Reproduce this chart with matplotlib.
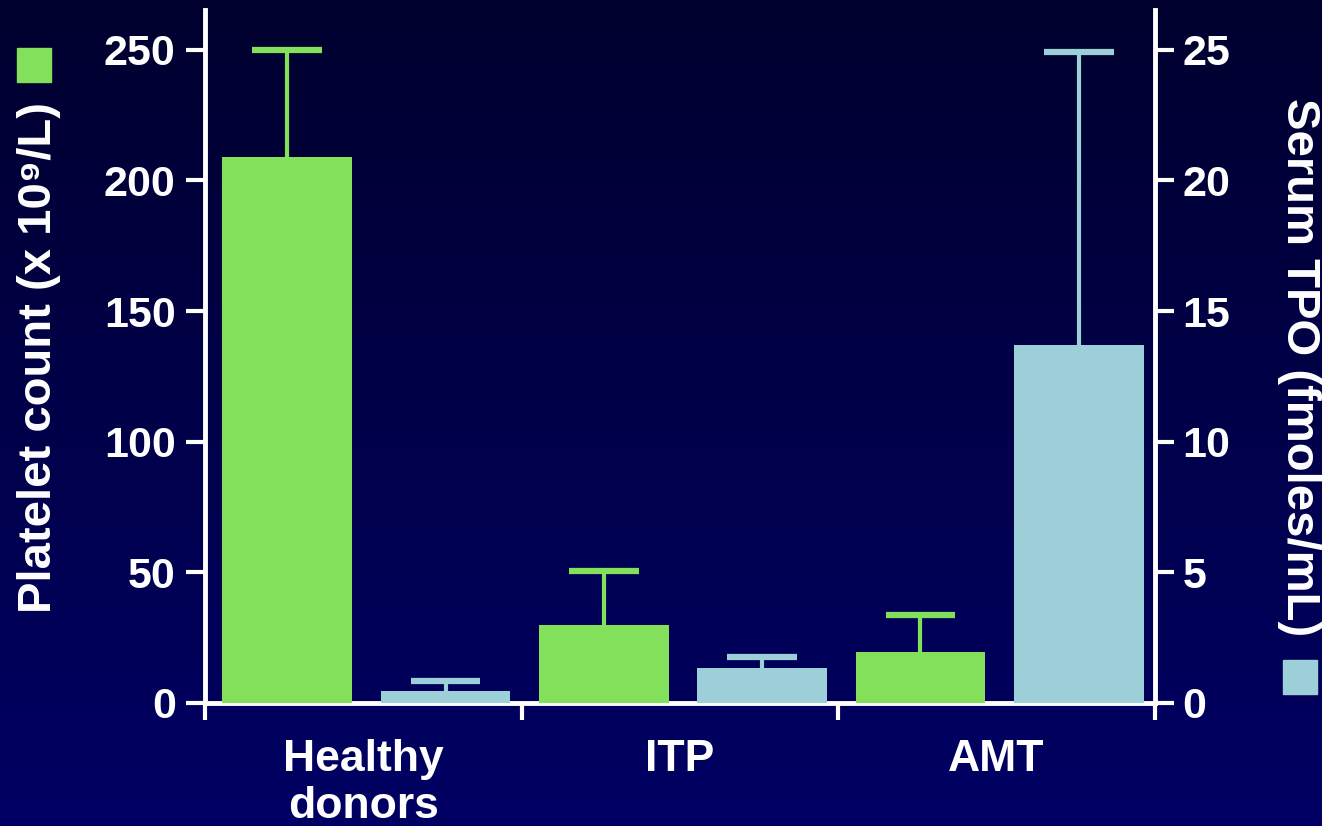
import numpy as np
import matplotlib
matplotlib.use('Agg')
import matplotlib.pyplot as plt
from matplotlib.patches import Rectangle
from matplotlib.colors import LinearSegmentedColormap

# data
groups = ['Healthy\ndonors', 'ITP', 'AMT']
platelets = [209, 30, 19.5]
platelets_err = [41, 20.5, 14]
tpo = [0.45, 1.35, 13.7]
tpo_err = [0.4, 0.4, 11.2]

green = '#82e05a'
blue = '#9ccfd8'
white = 'white'

plt.rcParams['font.family'] = ['Liberation Sans', 'DejaVu Sans']

fig = plt.figure(figsize=(13.22, 8.26), dpi=100)

# navy gradient background
bg = fig.add_axes([0, 0, 1, 1], zorder=-10)
grad = np.linspace(0, 1, 256).reshape(-1, 1)
cmap = LinearSegmentedColormap.from_list('navy', ['#00002e', '#000064'])
bg.imshow(grad, aspect='auto', cmap=cmap, extent=[0, 1, 0, 1])
bg.axis('off')

ax = fig.add_axes([0.155, 0.149, 0.7185, 0.839])
ax.patch.set_alpha(0)
ax2 = ax.twinx()

x = np.arange(len(groups))
w = 0.41
cap = 0.11

def bars_with_err(a, xs, vals, errs, col):
    a.bar(xs, vals, w, color=col, zorder=3)
    tops = np.array(vals) + np.array(errs)
    a.vlines(xs, vals, tops, color=col, lw=3, zorder=3)
    a.hlines(tops, xs - cap, xs + cap, color=col, lw=4.5, zorder=3)

bars_with_err(ax, x - 0.24, platelets, platelets_err, green)
bars_with_err(ax2, x + 0.26, tpo, tpo_err, blue)

ax.set_xlim(-0.5, 2.5)
ax.set_ylim(0, 265.3)
ax2.set_ylim(0, 26.53)

for a in (ax, ax2):
    for s in a.spines.values():
        s.set_color(white)
        s.set_linewidth(3.5)
    a.spines['top'].set_visible(False)
ax.spines['right'].set_visible(False)
ax2.spines['left'].set_visible(False)
ax2.spines['bottom'].set_visible(False)

ax.set_yticks([0, 50, 100, 150, 200, 250])
ax2.set_yticks([0, 5, 10, 15, 20, 25])
ax.tick_params(axis='y', colors=white, labelsize=31, width=3, length=14, pad=7)
ax2.tick_params(axis='y', colors=white, labelsize=31, width=3, length=14, pad=6)
for lab in ax.get_yticklabels() + ax2.get_yticklabels():
    lab.set_fontweight('bold')

# group separators as ticks, group names as text
ax.set_xticks([-0.5, 0.5, 1.5, 2.5])
ax.set_xticklabels([])
ax.tick_params(axis='x', colors=white, width=3, length=12)
for xi, g in zip(x, groups):
    ax.text(xi, -0.052, g, transform=ax.get_xaxis_transform(), ha='center', va='top',
            color=white, fontsize=32, fontweight='bold', linespacing=1.2)

fig.text(0.0295, 0.567, 'Platelet count (x 10⁹/L)', rotation=90, ha='center', va='center',
         color=white, fontsize=34, fontweight='bold')
fig.text(0.9826, 0.555, 'Serum TPO (fmoles/mL)', rotation=-90, ha='center', va='center',
         color=white, fontsize=34, fontweight='bold')
fig.patches.append(Rectangle((17 / 1322, 1 - 82 / 826), 34 / 1322, 34 / 826,
                             transform=fig.transFigure, color=green))
fig.patches.append(Rectangle((1283 / 1322, 1 - 694 / 826), 34 / 1322, 34 / 826,
                             transform=fig.transFigure, color=blue))

fig.savefig('out.png', dpi=100)
